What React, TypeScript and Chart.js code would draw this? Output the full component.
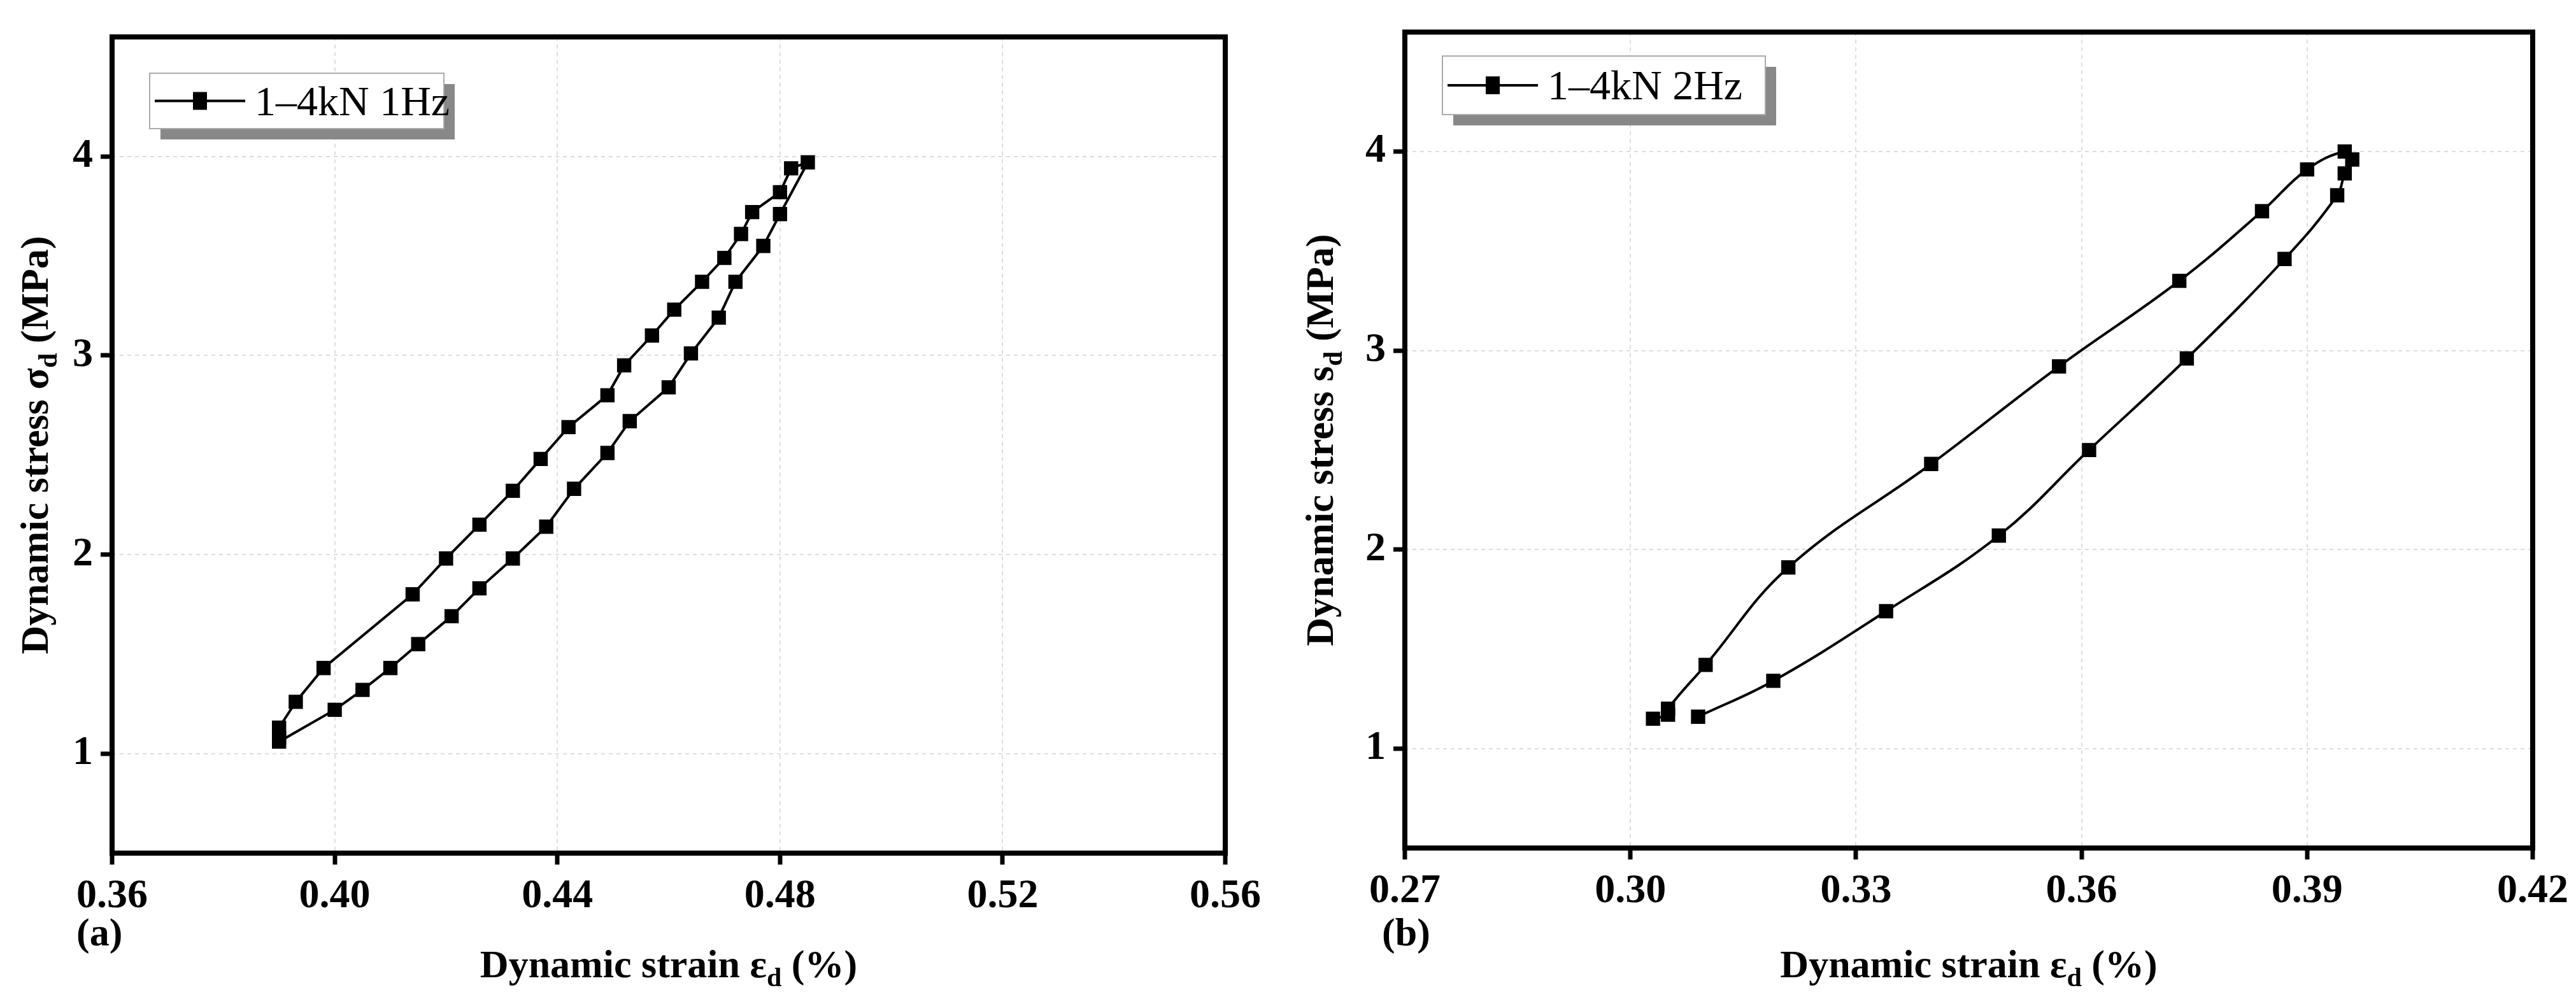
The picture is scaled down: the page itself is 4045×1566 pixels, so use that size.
import React, { useEffect, useRef } from "react";
import { Chart, registerables } from "chart.js";
Chart.register(...registerables);

const strainA = [0.39, 0.4, 0.405, 0.41, 0.415, 0.421, 0.426, 0.432, 0.438, 0.443, 0.449, 0.453, 0.46, 0.464, 0.469, 0.472, 0.477, 0.48, 0.485, 0.482, 0.48, 0.475, 0.473, 0.47, 0.466, 0.461, 0.457, 0.452, 0.449, 0.442, 0.437, 0.432, 0.426, 0.42, 0.414, 0.398, 0.393, 0.39, 0.39];
const stressA = [1.06, 1.22, 1.32, 1.43, 1.55, 1.69, 1.83, 1.98, 2.14, 2.33, 2.51, 2.67, 2.84, 3.01, 3.19, 3.37, 3.55, 3.71, 3.97, 3.94, 3.82, 3.72, 3.61, 3.49, 3.37, 3.23, 3.1, 2.95, 2.8, 2.64, 2.48, 2.32, 2.15, 1.98, 1.8, 1.43, 1.26, 1.13, 1.08];
const strainB = [0.309, 0.319, 0.334, 0.349, 0.361, 0.374, 0.387, 0.394, 0.395, 0.396, 0.395, 0.39, 0.384, 0.373, 0.357, 0.34, 0.321, 0.31, 0.305, 0.305, 0.303];
const stressB = [1.16, 1.34, 1.69, 2.07, 2.5, 2.96, 3.46, 3.78, 3.89, 3.96, 4.0, 3.91, 3.7, 3.35, 2.92, 2.43, 1.91, 1.42, 1.2, 1.17, 1.15];

type Cfg = {
  xs: number[]; ys: number[]; label: string; xmin: number; xmax: number; step: number;
  tension: number; yWidth: number; xHeight: number; pad: { left: number; right: number; top: number; bottom: number };
  legend: { x: number; y: number; w: number; h: number }; ySym: string; panel: string; yTitleX: number; panelX: number;
};

const serif = "'Liberation Serif', 'DejaVu Serif', serif";

function drawSub(ctx: CanvasRenderingContext2D, parts: [string, boolean][], x: number, y: number) {
  const big = "bold 62px " + serif, small = "bold 42px " + serif;
  let w = 0;
  for (const [t, s] of parts) { ctx.font = s ? small : big; w += ctx.measureText(t).width; }
  let cx = x - w / 2;
  ctx.textAlign = "left";
  for (const [t, s] of parts) {
    ctx.font = s ? small : big;
    ctx.fillText(t, cx, s ? y + 14 : y);
    cx += ctx.measureText(t).width;
  }
}

function Panel({ c, left, width }: { c: Cfg; left: number; width: number }) {
  const ref = useRef<HTMLCanvasElement>(null);
  useEffect(() => {
    const deco = {
      id: "deco",
      afterDraw(chart: any) {
        const ctx: CanvasRenderingContext2D = chart.ctx;
        const a = chart.chartArea;
        ctx.save();
        ctx.strokeStyle = "#000"; ctx.lineWidth = 8;
        ctx.strokeRect(a.left, a.top, a.right - a.left, a.bottom - a.top);
        const L = c.legend;
        ctx.fillStyle = "#888"; ctx.fillRect(L.x + 17, L.y + 17, L.w, L.h);
        ctx.fillStyle = "#fff"; ctx.fillRect(L.x, L.y, L.w, L.h);
        ctx.strokeStyle = "#aaa"; ctx.lineWidth = 2; ctx.strokeRect(L.x, L.y, L.w, L.h);
        const my = L.y + L.h / 2;
        ctx.strokeStyle = "#000"; ctx.lineWidth = 4;
        ctx.beginPath(); ctx.moveTo(L.x + 8, my); ctx.lineTo(L.x + 150, my); ctx.stroke();
        ctx.fillStyle = "#000"; ctx.fillRect(L.x + 68, my - 14, 22, 28);
        ctx.font = "66px " + serif; ctx.textBaseline = "alphabetic"; ctx.textAlign = "left";
        ctx.fillText(c.label, L.x + 165, my + 22);
        drawSub(ctx, [["Dynamic strain ε", false], ["d", true], [" (%)", false]], (a.left + a.right) / 2, 1535);
        ctx.font = "bold 62px " + serif; ctx.textAlign = "left";
        ctx.fillText(c.panel, c.panelX, 1485);
        ctx.translate(c.yTitleX, (a.top + a.bottom) / 2);
        ctx.rotate(-Math.PI / 2);
        drawSub(ctx, [["Dynamic stress " + c.ySym, false], ["d", true], [" (MPa)", false]], 0, 20);
        ctx.restore();
      },
    };
    const tickFont = { family: serif, size: 64, weight: "bold" as const };
    const chart = new Chart(ref.current!, {
      type: "scatter",
      data: {
        datasets: [{
          label: c.label,
          data: c.xs.map((x, i) => ({ x, y: c.ys[i] })),
          showLine: true, borderColor: "#000", borderWidth: 4, tension: c.tension,
          pointStyle: "rect", pointRadius: 13, pointBackgroundColor: "#000", pointBorderColor: "#000",
        }],
      },
      options: {
        animation: false, responsive: false,
        layout: { padding: c.pad },
        plugins: { legend: { display: false }, tooltip: { enabled: false } },
        scales: {
          x: {
            type: "linear", min: c.xmin, max: c.xmax,
            afterFit: (s: any) => { s.height = c.xHeight; },
            ticks: { stepSize: c.step, font: tickFont, color: "#000", padding: 12, callback: (v: any) => Number(v).toFixed(2) },
            grid: { color: "#ddd", lineWidth: 2, tickColor: "#000", tickLength: 18, tickWidth: 7 },
            border: { display: false, dash: [6, 6] },
          },
          y: {
            type: "linear", min: 0.5, max: 4.6,
            afterFit: (s: any) => { s.width = c.yWidth; },
            afterBuildTicks: (s: any) => { s.ticks = [1, 2, 3, 4].map((v) => ({ value: v })); },
            ticks: { font: tickFont, color: "#000", padding: 12 },
            grid: { color: "#ddd", lineWidth: 2, tickColor: "#000", tickLength: 18, tickWidth: 7 },
            border: { display: false, dash: [6, 6] },
          },
        },
      },
      plugins: [deco],
    } as any);
    return () => chart.destroy();
  }, []);
  return <canvas ref={ref} width={width} height={1566} style={{ position: "absolute", left, top: 0 }} />;
}

const cfgA: Cfg = {
  xs: strainA, ys: stressA, label: "1–4kN 1Hz", xmin: 0.36, xmax: 0.56, step: 0.04, tension: 0,
  yWidth: 176, xHeight: 226, pad: { left: 0, right: 101, top: 58, bottom: 0 },
  legend: { x: 235, y: 115, w: 462, h: 87 }, ySym: "σ", panel: "(a)", yTitleX: 55, panelX: 120,
};
const cfgB: Cfg = {
  xs: strainB, ys: stressB, label: "1–4kN 2Hz", xmin: 0.27, xmax: 0.42, step: 0.03, tension: 0.4,
  yWidth: 181, xHeight: 234, pad: { left: 0, right: 64, top: 30, bottom: 0 },
  legend: { x: 240, y: 88, w: 507, h: 92 }, ySym: "s", panel: "(b)", yTitleX: 48, panelX: 145,
};

export default function App() {
  return (
    <div style={{ position: "relative", width: 4045, height: 1566, margin: -8, background: "#fff" }}>
      <Panel c={cfgA} left={0} width={2025} />
      <Panel c={cfgB} left={2025} width={2020} />
    </div>
  );
}
